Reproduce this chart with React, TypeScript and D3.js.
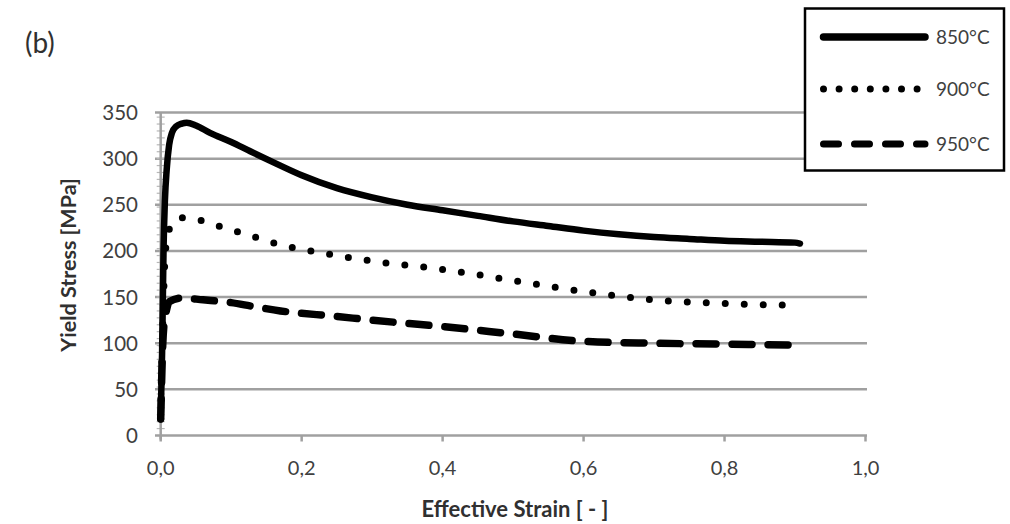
import React from "react";
import * as d3 from "d3";

const xTicks = [0, 0.2, 0.4, 0.6, 0.8, 1.0];
const yTicks = [0, 50, 100, 150, 200, 250, 300, 350];
const seriesNames = ["850°C", "900°C", "950°C"];

const s850: [number, number][] = [
  [0.0, 18], [0.002, 90], [0.004, 200], [0.006, 255], [0.0085, 288], [0.012, 315], [0.016, 328],
  [0.022, 335], [0.03, 338], [0.037, 339], [0.05, 336], [0.07, 328], [0.1, 318], [0.127, 308],
  [0.16, 296], [0.2, 282], [0.25, 268], [0.3, 258], [0.35, 250], [0.4, 244], [0.45, 238],
  [0.5, 232], [0.55, 227], [0.6, 222], [0.65, 218], [0.7, 215], [0.75, 213], [0.8, 211],
  [0.85, 210], [0.9, 209], [0.907, 208]
];
const s900: [number, number][] = [
  [0.0, 18], [0.003, 120], [0.006, 190], [0.01, 218], [0.02, 233], [0.027, 236], [0.052, 234],
  [0.078, 228], [0.104, 222], [0.13, 216], [0.154, 210], [0.18, 205], [0.25, 195],
  [0.3, 189], [0.4, 180], [0.5, 168], [0.6, 156], [0.7, 147], [0.8, 143], [0.9, 141]
];
const s950: [number, number][] = [
  [0.0, 18], [0.003, 100], [0.005, 123], [0.008, 135], [0.012, 145], [0.03, 149], [0.06, 147],
  [0.1, 144], [0.13, 140], [0.17, 135], [0.25, 129], [0.3, 125], [0.4, 118], [0.5, 110],
  [0.6, 102], [0.7, 100], [0.8, 99], [0.907, 98]
];

export default function App() {
  const W = 1010, H = 524;
  const x = d3.scaleLinear().domain([0, 1]).range([160.7, 865.5]);
  const y = d3.scaleLinear().domain([0, 350]).range([435.5, 112.5]);
  const line = d3.line<[number, number]>().x(d => x(d[0])).y(d => y(d[1])).curve(d3.curveMonotoneX);
  const font = "Lato, 'Open Sans', sans-serif";
  const grey = "#a0a0a0";
  const text = "#404040";
  const minor = d3.range(0, 351, 7.5);
  const styles = [
    { dash: undefined as string | undefined, width: 6.5, cap: "round" },
    { dash: "0 19", width: 7, cap: "round" },
    { dash: "20 16", width: 7.5, cap: "round" },
  ];
  const legendDash = [undefined, "0 15.6", "15 16"];
  const data = [s850, s900, s950];
  return (
    <svg width={W} height={H} style={{ position: "absolute", left: 0, top: 0, background: "#fff" }}>
      <rect width={W} height={H} fill="#fff" />
      <text x={25} y={53} fontFamily={font} fontSize={28} fill="#303030">(b)</text>
      {yTicks.map(t => (
        <g key={t}>
          {t > 0 && <line x1={155} x2={867} y1={y(t)} y2={y(t)} stroke={grey} strokeWidth={2.5} />}
          <text x={138} y={y(t) + 7.5} textAnchor="end" fontFamily={font} fontSize={20.5} fill={text}>{t}</text>
        </g>
      ))}
      {minor.map(t => (
        <line key={"m" + t} x1={x(0) - 4} x2={x(0) + 4} y1={y(t)} y2={y(t)} stroke="#b8b8b8" strokeWidth={1.2} />
      ))}
      <line x1={x(0)} x2={x(0)} y1={y(350)} y2={y(0) + 4} stroke={grey} strokeWidth={2.5} />
      <line x1={155} x2={867} y1={y(0)} y2={y(0)} stroke={grey} strokeWidth={2.5} />
      {xTicks.map(t => (
        <g key={t}>
          <line x1={x(t)} x2={x(t)} y1={y(0)} y2={y(0) + 6} stroke={grey} strokeWidth={2.5} />
          <text x={x(t)} y={475} textAnchor="middle" fontFamily={font} fontSize={20} fill={text}>
            {t.toFixed(1).replace(".", ",")}
          </text>
        </g>
      ))}
      <text x={515} y={517} textAnchor="middle" fontFamily={font} fontWeight="bold" fontSize={22} fill="#303030">
        Effective Strain [ - ]
      </text>
      <text transform="translate(76,265) rotate(-90)" textAnchor="middle" fontFamily={font} fontWeight="bold" fontSize={21.5} fill="#303030">
        Yield Stress [MPa]
      </text>
      {data.map((d, i) => (
        <path key={i} d={line(d) || ""} fill="none" stroke="#000" strokeWidth={styles[i].width}
          strokeDasharray={styles[i].dash} strokeLinecap={styles[i].cap as any} strokeLinejoin="round" />
      ))}
      <rect x={805} y={8.5} width={199} height={162} fill="#fff" stroke="#000" strokeWidth={2.5} />
      {seriesNames.map((n, i) => {
        const ly = [37, 89, 144][i];
        return (
          <g key={n}>
            <line x1={823.5} x2={925} y1={ly} y2={ly} stroke="#000" strokeWidth={i === 0 ? 7.5 : 7}
              strokeDasharray={legendDash[i]} strokeLinecap="round" />
            <text x={936} y={ly + 7} fontFamily={font} fontSize={19} fill={text}>{n}</text>
          </g>
        );
      })}
    </svg>
  );
}
